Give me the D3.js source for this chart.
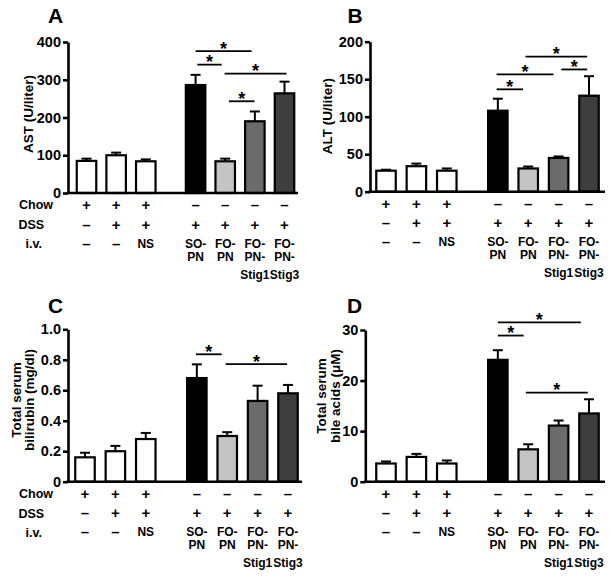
<!DOCTYPE html>
<html><head><meta charset="utf-8">
<script src="https://cdn.jsdelivr.net/npm/d3@7/dist/d3.min.js"></script>
<style>
html,body{margin:0;padding:0;background:#fff;}
svg{display:block;font-family:"Liberation Sans",Arial,Helvetica,sans-serif;font-weight:bold;}
</style></head><body>
<svg id="chart" width="614" height="576"></svg>
<script>
// ---------- data ----------
const groupPos = [0, 1, 2, 3.68, 4.68, 5.68, 6.68];
const barFills = ["#ffffff", "#ffffff", "#ffffff", "#000000", "#c4c4c4", "#6b6b6b", "#3e3e3e"];
const rowNames = ["Chow", "DSS", "i.v."];
const chowRow = ["+", "+", "+", "–", "–", "–", "–"];
const dssRow = ["–", "+", "+", "+", "+", "+", "+"];
const ivRow = [["–"], ["–"], ["NS"], ["SO-", "PN"], ["FO-", "PN"], ["FO-", "PN-", "Stig1"], ["FO-", "PN-", "Stig3"]];

const astMean = [85, 100, 84, 286, 84, 190, 264];
const astSem = [6, 7, 5, 27, 7, 26, 31];
const astTicks = [0, 100, 200, 300, 400];
const astSig = [[3.68, 5.57, 376], [3.74, 4.56, 340], [4.66, 6.75, 316], [4.80, 5.67, 243]];

const altMean = [28, 34, 28, 108, 31, 45, 128];
const altSem = [1.3, 3.5, 3, 16, 2.6, 2, 26];
const altTicks = [0, 50, 100, 150, 200];
const altSig = [[3.64, 4.51, 136.5], [3.64, 5.51, 156.5], [4.59, 6.62, 180], [5.77, 6.62, 163]];

const bilMean = [0.16, 0.20, 0.28, 0.68, 0.30, 0.53, 0.58];
const bilSem = [0.03, 0.035, 0.04, 0.09, 0.025, 0.10, 0.055];
const bilTicks = [0, 0.2, 0.4, 0.6, 0.8, 1.0];
const bilSig = [[3.65, 4.50, 0.836], [4.63, 6.65, 0.772]];

const baMean = [3.6, 4.9, 3.6, 24.1, 6.4, 11.1, 13.5];
const baSem = [0.4, 0.6, 0.6, 1.9, 1.0, 1.0, 2.8];
const baTicks = [0, 10, 20, 30];
const baSig = [[3.68, 6.41, 31.5], [3.68, 4.53, 28.9], [4.60, 6.64, 17.6]];

// ---------- layout ----------
const panels = [
  {letter:"A", lx:48, ly:23, mean:astMean, sem:astSem, ticks:astTicks, sig:astSig, fmt:d3.format("d"),
   axisX:68, y0:193, yTop:42, c0:86.5, c1:284.5, xEnd:298, label:["AST (U/liter)"], labX:[28], labY:114, rows:true},
  {letter:"B", lx:347.5, ly:23, mean:altMean, sem:altSem, ticks:altTicks, sig:altSig, fmt:d3.format("d"),
   axisX:370, y0:191.7, yTop:41.7, c0:386, c1:589, xEnd:605, label:["ALT (U/liter)"], labX:[327], labY:116, rows:false},
  {letter:"C", lx:48, ly:313, mean:bilMean, sem:bilSem, ticks:bilTicks, sig:bilSig, fmt:d => d === 0 ? "0" : d3.format(".1f")(d),
   axisX:68, y0:481.7, yTop:329.3, c0:85, c1:288, xEnd:302, label:["Total serum", "bilirubin (mg/dl)"], labX:[16, 29.5], labY:400, rows:true},
  {letter:"D", lx:347, ly:313, mean:baMean, sem:baSem, ticks:baTicks, sig:baSig, fmt:d3.format("d"),
   axisX:365.3, y0:481.7, yTop:330, c0:386, c1:589, xEnd:605, label:["Total serum", "bile acids (μM)"], labX:[321.5, 335], labY:396, rows:false}
];

const svg = d3.select("#chart");
const barW = 19.5, capW = 10;
const rowOffsets = [12, 31.5, 50.5, 63.5, 81.5];

panels.forEach(p => {
  const g = svg.append("g");
  const yMax = p.ticks[p.ticks.length - 1];
  const y = d3.scaleLinear().domain([0, yMax]).range([p.y0, p.yTop]);
  const x = d3.scaleLinear().domain([groupPos[0], groupPos[groupPos.length - 1]]).range([p.c0, p.c1]);

  g.append("text").attr("x", p.lx).attr("y", p.ly).attr("font-size", 21).text(p.letter);

  p.label.forEach((t, i) => {
    g.append("text")
      .attr("transform", `translate(${p.labX[i]},${p.labY}) rotate(-90)`)
      .attr("text-anchor", "middle").attr("dy", "0.35em")
      .attr("font-size", 13.5).text(t);
  });

  const data = p.mean.map((m, i) => ({m, s: p.sem[i], pos: groupPos[i], fill: barFills[i]}));
  const eb = g.append("g").attr("stroke", "#000").attr("stroke-width", 2);
  data.forEach(d => {
    eb.append("line").attr("x1", x(d.pos)).attr("x2", x(d.pos)).attr("y1", y(d.m)).attr("y2", y(d.m + d.s));
    eb.append("line").attr("x1", x(d.pos) - capW / 2).attr("x2", x(d.pos) + capW / 2).attr("y1", y(d.m + d.s)).attr("y2", y(d.m + d.s));
  });
  g.append("g").selectAll("rect").data(data).join("rect")
    .attr("x", d => x(d.pos) - barW / 2).attr("width", barW)
    .attr("y", d => y(d.m)).attr("height", d => y(0) - y(d.m))
    .attr("fill", d => d.fill).attr("stroke", "#000").attr("stroke-width", 2.2);

  const ax = g.append("g").attr("transform", `translate(${p.axisX},0)`)
    .call(d3.axisLeft(y).tickValues(p.ticks).tickFormat(p.fmt).tickSizeInner(5).tickSizeOuter(0).tickPadding(2));
  ax.select(".domain").attr("stroke-width", 2.6);
  ax.selectAll(".tick line").attr("stroke-width", 2.6);
  ax.selectAll(".tick text").attr("font-size", 14.5).attr("font-weight", "bold")
    .attr("font-family", "'Liberation Sans',Arial,sans-serif").attr("fill", "#000");
  ax.attr("font-family", null).attr("font-size", null);

  g.append("line").attr("x1", p.axisX - 1.3).attr("x2", p.xEnd).attr("y1", p.y0).attr("y2", p.y0)
    .attr("stroke", "#000").attr("stroke-width", 2.6);

  p.sig.forEach(s => {
    const yy = y(s[2]);
    g.append("line").attr("x1", x(s[0])).attr("x2", x(s[1])).attr("y1", yy).attr("y2", yy)
      .attr("stroke", "#000").attr("stroke-width", 1.8);
    g.append("text").attr("x", (x(s[0]) + x(s[1])) / 2).attr("y", yy + 3.5)
      .attr("text-anchor", "middle").attr("font-size", 18).text("*");
  });

  const rg = g.append("g").attr("text-anchor", "middle");
  data.forEach((d, i) => {
    rg.append("text").attr("x", x(d.pos)).attr("y", p.y0 + rowOffsets[0]).attr("dy", "0.35em").attr("font-size", 15).text(chowRow[i]);
    rg.append("text").attr("x", x(d.pos)).attr("y", p.y0 + rowOffsets[1]).attr("dy", "0.35em").attr("font-size", 15).text(dssRow[i]);
    ivRow[i].forEach((t, j) => {
      rg.append("text").attr("x", x(d.pos)).attr("y", p.y0 + rowOffsets[2 + j]).attr("dy", "0.35em")
        .attr("font-size", t === "–" ? 15 : 12).text(t);
    });
  });
  if (p.rows) {
    const rowX = [19, 18.5, 25.5];
    rowNames.forEach((t, i) => {
      g.append("text").attr("x", rowX[i]).attr("y", p.y0 + rowOffsets[i]).attr("dy", "0.35em")
        .attr("font-size", 12.5).text(t);
    });
  }
});
</script>
</body></html>
